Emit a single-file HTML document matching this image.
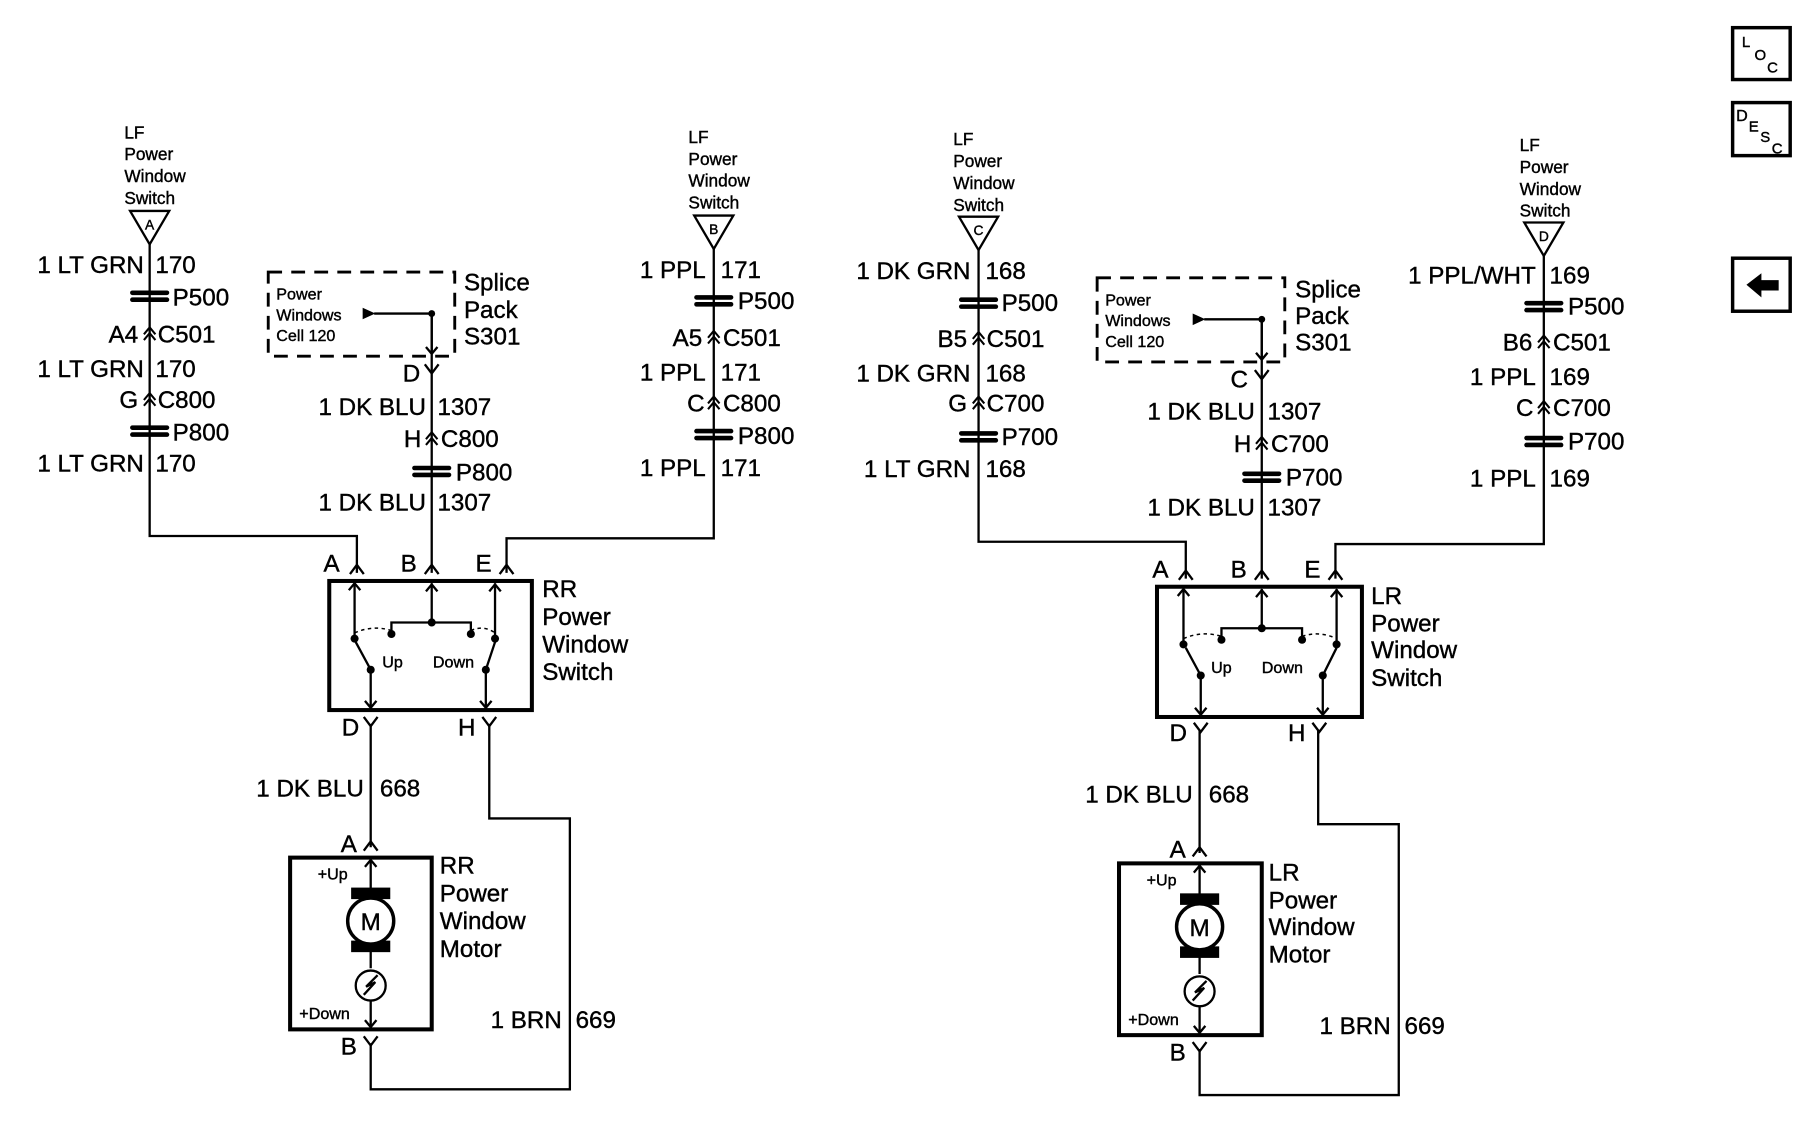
<!DOCTYPE html>
<html><head><meta charset="utf-8"><style>
html,body{margin:0;padding:0;background:#fff;}
svg{display:block;}
text{font-family:"Liberation Sans",Arial,sans-serif;fill:#000;stroke:#000;stroke-width:0.35;}
.m{font-size:21px;}
.s{font-size:15px;}
.x{font-size:14px;}
</style></head><body>
<svg width="1804" height="1136" viewBox="0 0 1567 985.5" preserveAspectRatio="none" xmlns="http://www.w3.org/2000/svg">
<defs>
<g id="pinch"><rect x="-17" y="-5" width="34" height="4" rx="2" fill="#000"/><rect x="-17" y="1" width="34" height="4" rx="2" fill="#000"/></g>
<path id="dchev" d="M-5,3 L0,-3 L5,3 M-5,8 L0,2 L5,8" fill="none" stroke="#000" stroke-width="1.8"/>
<path id="topc" d="M-6,8 L0,0 L6,8" fill="none" stroke="#000" stroke-width="2"/>
<path id="botc" d="M-6,-8 L0,0 L6,-8" fill="none" stroke="#000" stroke-width="2"/>
<path id="aup" d="M-5,6 L0,0 L5,6" fill="none" stroke="#000" stroke-width="2"/>
<path id="adn" d="M-5,-6 L0,0 L5,-6" fill="none" stroke="#000" stroke-width="2"/>
</defs>

<!-- LEFT HALF -->
<g id="L" stroke-linecap="butt">
<g fill="none" stroke="#000" stroke-width="2">
<path d="M130,212 V465 H310 V497"/>
<path d="M620,216 V467 H440 V497"/>
<path d="M375,272 V497"/>
<path d="M322,628 V735"/>
<path d="M425,628 V710 H495 V945 H322 V905"/>
<path d="M113,183 H147 L130,212 Z"/>
<path d="M603,187 H637 L620,216 Z"/>
<rect x="233" y="236" width="162" height="73" stroke-dasharray="12,8" stroke-width="2.5"/>
<path d="M325,272 H375 V306"/>
</g>
<polygon points="315,267 326,272 315,277" fill="#000"/>
<circle cx="375" cy="272" r="3" fill="#000"/>
<use href="#adn" x="375" y="307"/>
<text x="130" y="199" text-anchor="middle" font-size="12">A</text>
<text x="620" y="203" text-anchor="middle" font-size="12">B</text>
<text class="s" x="108" y="120">LF</text><text class="s" x="108" y="139">Power</text><text class="s" x="108" y="158">Window</text><text class="s" x="108" y="177">Switch</text>
<text class="s" x="598" y="124">LF</text><text class="s" x="598" y="143">Power</text><text class="s" x="598" y="162">Window</text><text class="s" x="598" y="181">Switch</text>
<text class="x" x="240" y="260">Power</text><text class="x" x="240" y="278">Windows</text><text class="x" x="240" y="296">Cell 120</text>
<text class="m" x="403" y="252">Splice</text><text class="m" x="403" y="276">Pack</text><text class="m" x="403" y="299">S301</text>
<text class="m" x="125" y="237" text-anchor="end">1 LT GRN</text><text class="m" x="135" y="237">170</text>
<use href="#pinch" x="130" y="257"/><text class="m" x="150" y="265">P500</text>
<text class="m" x="120" y="297" text-anchor="end">A4</text><use href="#dchev" x="130" y="287"/><text class="m" x="137" y="297">C501</text>
<text class="m" x="125" y="327" text-anchor="end">1 LT GRN</text><text class="m" x="135" y="327">170</text>
<text class="m" x="120" y="354" text-anchor="end">G</text><use href="#dchev" x="130" y="344"/><text class="m" x="137" y="354">C800</text>
<use href="#pinch" x="130" y="374"/><text class="m" x="150" y="382">P800</text>
<text class="m" x="125" y="409" text-anchor="end">1 LT GRN</text><text class="m" x="135" y="409">170</text>
<text class="m" x="365" y="331" text-anchor="end">D</text><use href="#botc" x="375" y="324"/>
<text class="m" x="370" y="360" text-anchor="end">1 DK BLU</text><text class="m" x="380" y="360">1307</text>
<text class="m" x="366" y="388" text-anchor="end">H</text><use href="#dchev" x="375" y="378"/><text class="m" x="383" y="388">C800</text>
<use href="#pinch" x="375" y="409"/><text class="m" x="396" y="417">P800</text>
<text class="m" x="370" y="443" text-anchor="end">1 DK BLU</text><text class="m" x="380" y="443">1307</text>
<text class="m" x="613" y="241" text-anchor="end">1 PPL</text><text class="m" x="626" y="241">171</text>
<use href="#pinch" x="620" y="261"/><text class="m" x="641" y="268">P500</text>
<text class="m" x="610" y="300" text-anchor="end">A5</text><use href="#dchev" x="620" y="290"/><text class="m" x="628" y="300">C501</text>
<text class="m" x="613" y="330" text-anchor="end">1 PPL</text><text class="m" x="626" y="330">171</text>
<text class="m" x="612" y="357" text-anchor="end">C</text><use href="#dchev" x="620" y="347"/><text class="m" x="628" y="357">C800</text>
<use href="#pinch" x="620" y="377"/><text class="m" x="641" y="385">P800</text>
<text class="m" x="613" y="413" text-anchor="end">1 PPL</text><text class="m" x="626" y="413">171</text>
<text class="m" x="295" y="496" text-anchor="end">A</text><use href="#topc" x="310" y="490"/>
<text class="m" x="362" y="496" text-anchor="end">B</text><use href="#topc" x="375" y="490"/>
<text class="m" x="427" y="496" text-anchor="end">E</text><use href="#topc" x="440" y="490"/>
<rect x="286" y="504" width="176" height="112" fill="none" stroke="#000" stroke-width="3.5"/>
<g fill="none" stroke="#000" stroke-width="2">
<path d="M308,506 V553 M375,506 V540 M430,506 V553 M340,550 V540 H409 V550"/>
<path d="M308,549 Q324,542 340,547 M409,547 Q420,542 430,549" stroke-dasharray="3,3" stroke-width="1.3"/>
<path d="M322,581 L309,557 M322,581 V614 M422,581 L430,557 M422,581 V614"/>
</g>
<use href="#aup" x="308" y="506"/><use href="#aup" x="375" y="507"/><use href="#aup" x="430" y="507"/>
<use href="#adn" x="322" y="614"/><use href="#adn" x="422" y="614"/>
<g fill="#000"><circle cx="308" cy="554" r="3.5"/><circle cx="340" cy="550" r="3.5"/><circle cx="375" cy="540" r="3.5"/><circle cx="409" cy="550" r="3.5"/><circle cx="430" cy="554" r="3.5"/><circle cx="322" cy="581" r="3.5"/><circle cx="422" cy="581" r="3.5"/></g>
<text class="x" x="332" y="579">Up</text><text class="x" x="376" y="579">Down</text>
<text class="m" x="471" y="518">RR</text><text class="m" x="471" y="542">Power</text><text class="m" x="471" y="566">Window</text><text class="m" x="471" y="590">Switch</text>
<text class="m" x="312" y="638" text-anchor="end">D</text><use href="#botc" x="322" y="630"/>
<text class="m" x="413" y="638" text-anchor="end">H</text><use href="#botc" x="425" y="630"/>
<text class="m" x="316" y="691" text-anchor="end">1 DK BLU</text><text class="m" x="330" y="691">668</text>
<text class="m" x="310" y="739" text-anchor="end">A</text><use href="#topc" x="322" y="730"/>
<rect x="252" y="744" width="123" height="149" fill="none" stroke="#000" stroke-width="3.5"/>
<path d="M322,745 V840 M322,868 V892" stroke="#000" stroke-width="2" fill="none"/>
<use href="#aup" x="322" y="746"/><use href="#adn" x="322" y="891"/>
<rect x="305" y="770" width="34" height="10" fill="#000"/><rect x="305" y="816" width="34" height="10" fill="#000"/>
<circle cx="322" cy="799" r="20" fill="#fff" stroke="#000" stroke-width="3"/>
<text x="322" y="807" text-anchor="middle" font-size="21">M</text>
<circle cx="322" cy="855" r="13" fill="#fff" stroke="#000" stroke-width="2"/>
<path d="M316,863 L326,852 L318,856 L328,846" fill="none" stroke="#000" stroke-width="2"/>
<text class="x" x="276" y="763">+Up</text><text class="x" x="260" y="884">+Down</text>
<text class="m" x="382" y="758">RR</text><text class="m" x="382" y="782">Power</text><text class="m" x="382" y="806">Window</text><text class="m" x="382" y="830">Motor</text>
<text class="m" x="310" y="915" text-anchor="end">B</text><use href="#botc" x="322" y="907"/>
<text class="m" x="488" y="892" text-anchor="end">1 BRN</text><text class="m" x="500" y="892">669</text>
</g>

<!-- RIGHT HALF -->
<g transform="translate(720,5)">
<g fill="none" stroke="#000" stroke-width="2">
<path d="M130,212 V465 H310 V497"/>
<path d="M621,216 V467 H440 V497"/>
<path d="M376,272 V497"/>
<path d="M322,628 V735"/>
<path d="M425,628 V710 H495 V945 H322 V905"/>
<path d="M113,183 H147 L130,212 Z"/>
<path d="M604,188 H638 L621,217 Z"/>
<rect x="233" y="236" width="163" height="73" stroke-dasharray="12,8" stroke-width="2.5"/>
<path d="M326,272 H376 V306"/>
</g>
<polygon points="316,267 327,272 316,277" fill="#000"/>
<circle cx="376" cy="272" r="3" fill="#000"/>
<use href="#adn" x="376" y="307"/>
<text x="130" y="199" text-anchor="middle" font-size="12">C</text>
<text x="621" y="204" text-anchor="middle" font-size="12">D</text>
<text class="s" x="108" y="121">LF</text><text class="s" x="108" y="140">Power</text><text class="s" x="108" y="159">Window</text><text class="s" x="108" y="178">Switch</text>
<text class="s" x="600" y="126">LF</text><text class="s" x="600" y="145">Power</text><text class="s" x="600" y="164">Window</text><text class="s" x="600" y="183">Switch</text>
<text class="x" x="240" y="260">Power</text><text class="x" x="240" y="278">Windows</text><text class="x" x="240" y="296">Cell 120</text>
<text class="m" x="405" y="253">Splice</text><text class="m" x="405" y="276">Pack</text><text class="m" x="405" y="299">S301</text>
<text class="m" x="123" y="237" text-anchor="end">1 DK GRN</text><text class="m" x="136" y="237">168</text>
<use href="#pinch" x="130" y="258"/><text class="m" x="150" y="265">P500</text>
<text class="m" x="120" y="296" text-anchor="end">B5</text><use href="#dchev" x="130" y="286"/><text class="m" x="137" y="296">C501</text>
<text class="m" x="123" y="326" text-anchor="end">1 DK GRN</text><text class="m" x="136" y="326">168</text>
<text class="m" x="120" y="352" text-anchor="end">G</text><use href="#dchev" x="130" y="342"/><text class="m" x="137" y="352">C700</text>
<use href="#pinch" x="130" y="374"/><text class="m" x="150" y="381">P700</text>
<text class="m" x="123" y="409" text-anchor="end">1 LT GRN</text><text class="m" x="136" y="409">168</text>
<text class="m" x="364" y="331" text-anchor="end">C</text><use href="#botc" x="376" y="324"/>
<text class="m" x="370" y="359" text-anchor="end">1 DK BLU</text><text class="m" x="381" y="359">1307</text>
<text class="m" x="367" y="387" text-anchor="end">H</text><use href="#dchev" x="376" y="377"/><text class="m" x="384" y="387">C700</text>
<use href="#pinch" x="376" y="409"/><text class="m" x="397" y="416">P700</text>
<text class="m" x="370" y="442" text-anchor="end">1 DK BLU</text><text class="m" x="381" y="442">1307</text>
<text class="m" x="614" y="241" text-anchor="end">1 PPL/WHT</text><text class="m" x="626" y="241">169</text>
<use href="#pinch" x="621" y="261"/><text class="m" x="642" y="268">P500</text>
<text class="m" x="611" y="299" text-anchor="end">B6</text><use href="#dchev" x="621" y="289"/><text class="m" x="629" y="299">C501</text>
<text class="m" x="614" y="329" text-anchor="end">1 PPL</text><text class="m" x="626" y="329">169</text>
<text class="m" x="612" y="356" text-anchor="end">C</text><use href="#dchev" x="621" y="346"/><text class="m" x="629" y="356">C700</text>
<use href="#pinch" x="621" y="378"/><text class="m" x="642" y="385">P700</text>
<text class="m" x="614" y="417" text-anchor="end">1 PPL</text><text class="m" x="626" y="417">169</text>
<text class="m" x="295" y="496" text-anchor="end">A</text><use href="#topc" x="310" y="490"/>
<text class="m" x="363" y="496" text-anchor="end">B</text><use href="#topc" x="376" y="490"/>
<text class="m" x="427" y="496" text-anchor="end">E</text><use href="#topc" x="440" y="490"/>
<rect x="285" y="504" width="178" height="113" fill="none" stroke="#000" stroke-width="3.5"/>
<g fill="none" stroke="#000" stroke-width="2">
<path d="M308,506 V553 M376,506 V540 M441,506 V553 M341,550 V540 H411 V550"/>
<path d="M308,549 Q324,542 341,547 M411,547 Q426,542 441,549" stroke-dasharray="3,3" stroke-width="1.3"/>
<path d="M323,581 L310,557 M323,581 V615 M429,581 L441,557 M429,581 V615"/>
</g>
<use href="#aup" x="308" y="506"/><use href="#aup" x="376" y="507"/><use href="#aup" x="441" y="507"/>
<use href="#adn" x="323" y="615"/><use href="#adn" x="429" y="615"/>
<g fill="#000"><circle cx="308" cy="554" r="3.5"/><circle cx="341" cy="550" r="3.5"/><circle cx="376" cy="540" r="3.5"/><circle cx="411" cy="550" r="3.5"/><circle cx="441" cy="554" r="3.5"/><circle cx="323" cy="581" r="3.5"/><circle cx="429" cy="581" r="3.5"/></g>
<text class="x" x="332" y="579">Up</text><text class="x" x="376" y="579">Down</text>
<text class="m" x="471" y="519">LR</text><text class="m" x="471" y="543">Power</text><text class="m" x="471" y="566">Window</text><text class="m" x="471" y="590">Switch</text>
<text class="m" x="311" y="638" text-anchor="end">D</text><use href="#botc" x="323" y="630"/>
<text class="m" x="414" y="638" text-anchor="end">H</text><use href="#botc" x="426" y="630"/>
<text class="m" x="316" y="691" text-anchor="end">1 DK BLU</text><text class="m" x="330" y="691">668</text>
<text class="m" x="310" y="739" text-anchor="end">A</text><use href="#topc" x="322" y="730"/>
<rect x="252" y="744" width="124" height="149" fill="none" stroke="#000" stroke-width="3.5"/>
<path d="M322,745 V840 M322,868 V892" stroke="#000" stroke-width="2" fill="none"/>
<use href="#aup" x="322" y="746"/><use href="#adn" x="322" y="891"/>
<rect x="305" y="770" width="34" height="10" fill="#000"/><rect x="305" y="816" width="34" height="10" fill="#000"/>
<circle cx="322" cy="799" r="20" fill="#fff" stroke="#000" stroke-width="3"/>
<text x="322" y="807" text-anchor="middle" font-size="21">M</text>
<circle cx="322" cy="855" r="13" fill="#fff" stroke="#000" stroke-width="2"/>
<path d="M316,863 L326,852 L318,856 L328,846" fill="none" stroke="#000" stroke-width="2"/>
<text class="x" x="276" y="763">+Up</text><text class="x" x="260" y="884">+Down</text>
<text class="m" x="382" y="759">LR</text><text class="m" x="382" y="783">Power</text><text class="m" x="382" y="806">Window</text><text class="m" x="382" y="830">Motor</text>
<text class="m" x="310" y="915" text-anchor="end">B</text><use href="#botc" x="322" y="907"/>
<text class="m" x="488" y="892" text-anchor="end">1 BRN</text><text class="m" x="500" y="892">669</text>
</g>

<!-- nav icons -->
<g fill="none" stroke="#000" stroke-width="3">
<rect x="1505" y="24" width="50" height="45"/>
<rect x="1505" y="89" width="50" height="46"/>
<rect x="1505" y="224" width="50" height="46"/>
</g>
<text x="1513" y="41" font-size="13">L</text><text x="1524" y="52" font-size="13">O</text><text x="1535" y="63" font-size="13">C</text>
<text x="1508" y="105" font-size="14">D</text><text x="1519" y="114" font-size="13">E</text><text x="1529" y="123" font-size="13">S</text><text x="1539" y="133" font-size="13">C</text>
<path d="M1517,247 L1530,237 V243 H1545 V252 H1530 V258 Z" fill="#000"/>
</svg>
</body></html>
